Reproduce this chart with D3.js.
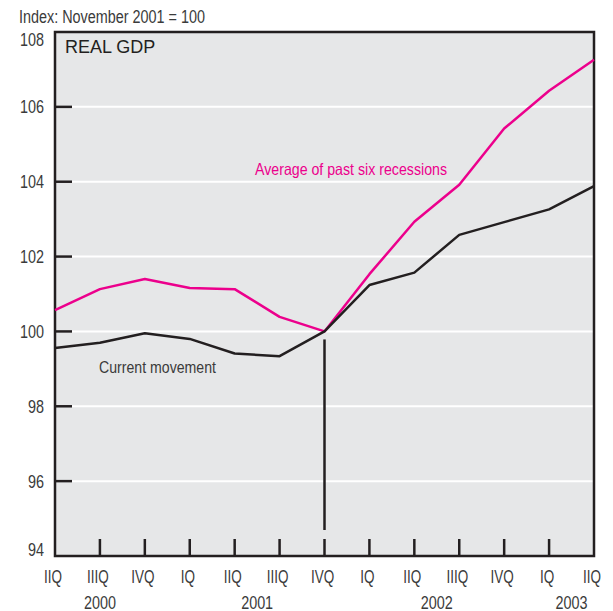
<!DOCTYPE html>
<html>
<head>
<meta charset="utf-8">
<script src="https://cdn.jsdelivr.net/npm/d3@7"></script>
<style>
  body { margin: 0; background: #fff; }
  text { font-family: "Liberation Sans", Arial, sans-serif; fill: #3b3b3b; }
</style>
</head>
<body>
<div id="vis"></div>
<script>
const quarters = ["IIQ", "IIIQ", "IVQ", "IQ", "IIQ", "IIIQ", "IVQ", "IQ", "IIQ", "IIIQ", "IVQ", "IQ", "IIQ"];
const years = [
  { label: "2000", from: 0, to: 2 },
  { label: "2001", from: 3, to: 6 },
  { label: "2002", from: 7, to: 10 },
  { label: "2003", from: 11, to: 12 }
];
const pastAverage = [100.57, 101.13, 101.40, 101.16, 101.13, 100.39, 100.0, 101.53, 102.93, 103.92, 105.42, 106.43, 107.26];
const currentMove = [99.56, 99.70, 99.95, 99.80, 99.41, 99.34, 100.0, 101.24, 101.57, 102.58, 102.92, 103.26, 103.88];
const yTicks = [94, 96, 98, 100, 102, 104, 106, 108];

const width = 613, height = 611;
const plotL = 55, plotR = 594, plotT = 32, plotB = 556;

const svg = d3.select("#vis").append("svg")
  .attr("width", width)
  .attr("height", height);

const x = d3.scaleLinear().domain([0, quarters.length - 1]).range([plotL, plotR]);
const y = d3.scaleLinear().domain([94, 108]).range([plotB, plotT]);

// squeeze text horizontally to mimic the condensed face
function condense(sel, f) {
  sel.each(function() {
    const t = d3.select(this);
    const tx = +t.attr("x"), ty = +t.attr("y");
    t.attr("x", 0).attr("y", 0)
      .attr("transform", `translate(${tx},${ty}) scale(${f},1)`);
  });
}

// background
svg.append("rect")
  .attr("x", plotL).attr("y", plotT)
  .attr("width", plotR - plotL).attr("height", plotB - plotT)
  .attr("fill", "#e6e7e8");

// white grid lines
svg.selectAll(".grid")
  .data(yTicks.slice(1, -1))
  .join("line")
  .attr("x1", plotL).attr("x2", plotR)
  .attr("y1", d => y(d)).attr("y2", d => y(d))
  .attr("stroke", "#fff").attr("stroke-width", 2);

// left inner ticks
svg.selectAll(".ytick")
  .data(yTicks.slice(1, -1))
  .join("line")
  .attr("x1", plotL).attr("x2", plotL + 17)
  .attr("y1", d => y(d)).attr("y2", d => y(d))
  .attr("stroke", "#231f20").attr("stroke-width", 2.5);

// bottom inner ticks
svg.selectAll(".xtick")
  .data(d3.range(1, quarters.length - 1))
  .join("line")
  .attr("x1", d => x(d)).attr("x2", d => x(d))
  .attr("y1", plotB).attr("y2", plotB - 17)
  .attr("stroke", "#231f20").attr("stroke-width", 2.5);

// November 2001 marker
svg.append("line")
  .attr("x1", x(6)).attr("x2", x(6))
  .attr("y1", y(100) + 8).attr("y2", plotB - 26)
  .attr("stroke", "#231f20").attr("stroke-width", 2.5);

// frame
svg.append("rect")
  .attr("x", plotL).attr("y", plotT)
  .attr("width", plotR - plotL).attr("height", plotB - plotT)
  .attr("fill", "none")
  .attr("stroke", "#231f20").attr("stroke-width", 2.5);

const line = d3.line().x((d, i) => x(i)).y(d => y(d));

svg.append("path")
  .datum(pastAverage)
  .attr("d", line)
  .attr("fill", "none")
  .attr("stroke", "#ec008c").attr("stroke-width", 2.5)
  .attr("stroke-linejoin", "round");

svg.append("path")
  .datum(currentMove)
  .attr("d", line)
  .attr("fill", "none")
  .attr("stroke", "#231f20").attr("stroke-width", 2.5)
  .attr("stroke-linejoin", "round");

// y labels (end ones nudged inside the frame)
svg.selectAll(".ylab")
  .data(yTicks)
  .join("text")
  .attr("x", 44)
  .attr("y", d => y(d) + 6.5 + (d === 108 ? 7.5 : d === 94 ? -7 : 0))
  .attr("text-anchor", "end")
  .style("font-size", "18px")
  .text(d => d)
  .call(condense, 0.8);

// quarter labels
svg.selectAll(".qlab")
  .data(quarters)
  .join("text")
  .attr("x", (d, i) => x(i) - 2)
  .attr("y", 583)
  .attr("text-anchor", "middle")
  .style("font-size", "18px")
  .text(d => d)
  .call(condense, 0.75);

// year labels
svg.selectAll(".yrlab")
  .data(years)
  .join("text")
  .attr("x", d => (x(d.from) + x(d.to)) / 2)
  .attr("y", 609)
  .attr("text-anchor", "middle")
  .style("font-size", "18px")
  .text(d => d.label)
  .call(condense, 0.8);

svg.append("text")
  .attr("x", 19).attr("y", 22.5)
  .style("font-size", "18px")
  .attr("textLength", 186)
  .attr("lengthAdjust", "spacingAndGlyphs")
  .text("Index: November 2001 = 100");

svg.append("text")
  .attr("x", 65).attr("y", 53)
  .style("font-size", "18px")
  .style("fill", "#231f20")
  .text("REAL GDP");

svg.append("text")
  .attr("x", 255).attr("y", 175)
  .style("font-size", "16.5px")
  .style("fill", "#ec008c")
  .attr("textLength", 192)
  .attr("lengthAdjust", "spacingAndGlyphs")
  .text("Average of past six recessions");

svg.append("text")
  .attr("x", 99).attr("y", 372.5)
  .style("font-size", "17px")
  .attr("textLength", 117)
  .attr("lengthAdjust", "spacingAndGlyphs")
  .text("Current movement");
</script>
</body>
</html>
